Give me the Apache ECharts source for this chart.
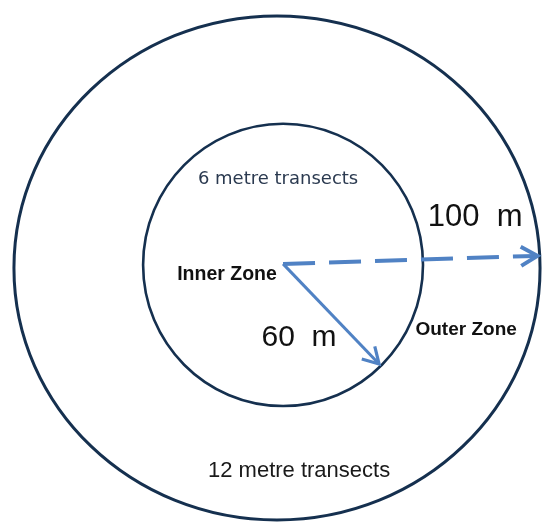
<!DOCTYPE html>
<html>
<head>
<meta charset="utf-8">
<script src="https://cdn.jsdelivr.net/npm/echarts@6/dist/echarts.min.js"></script>
<style>
html,body{margin:0;padding:0;background:#fff;}
#chart{width:544px;height:522px;}
</style>
</head>
<body>
<div id="chart"></div>
<script>
// ---- Data (diagram units: outer zone radius = 100) ----
var zoneNames   = ['Inner Zone', 'Outer Zone'];
var ringCenterX = [2.3, 0];
var ringCenterY = [1.2, 0];
var ringRadiusX = [53.2, 100];
var ringRadiusY = [56.0, 100];

var arrowNames  = ['100 m', '60 m'];
var arrowStartX = [2.3, 2.3];
var arrowStartY = [1.6, 1.6];
var arrowEndX   = [99.0, 38.8];
var arrowEndY   = [4.8, -38.1];
var arrowDashed = [1, 0];

var labelTexts  = ['6 metre transects', 'Inner Zone', '100  m', '60  m', 'Outer Zone', '12 metre transects'];
var labelX      = [0.4, -19.0, 75.3, 8.4, 71.9, 8.4];
var labelY      = [35.3, -2.8, 20.0, -27.8, -24.6, -80.6];

// ---- Styles ----
var labelStyles = [
  {font: 'normal 18px "DejaVu Sans"', fill: '#2b3a50'},
  {font: 'bold 19.5px "Liberation Sans"', fill: '#111111'},
  {font: 'normal 31px "Liberation Sans"', fill: '#111111'},
  {font: 'normal 30px "Liberation Sans"', fill: '#111111'},
  {font: 'bold 19px "Liberation Sans"', fill: '#111111'},
  {font: 'normal 22px "Liberation Sans"', fill: '#1a1a1a'}
];

var ringData = zoneNames.map(function (n, i) {
  return [ringCenterX[i], ringCenterY[i], ringRadiusX[i], ringRadiusY[i]];
});
var arrowData = arrowNames.map(function (n, i) {
  return [arrowStartX[i], arrowStartY[i], arrowEndX[i], arrowEndY[i], arrowDashed[i]];
});
var labelData = labelTexts.map(function (t, i) {
  return [labelX[i], labelY[i], i];
});

var chart = echarts.init(document.getElementById('chart'));
chart.setOption({
  animation: false,
  backgroundColor: '#ffffff',
  grid: {left: 0, right: 0, top: 0, bottom: 0},
  xAxis: {type: 'value', min: -105.3, max: 101.5, show: false},
  yAxis: {type: 'value', min: -100.8, max: 106.3, show: false},
  series: [
    {
      type: 'custom',
      name: 'zones',
      data: ringData,
      renderItem: function (params, api) {
        var c = api.coord([api.value(0), api.value(1)]);
        var s = api.size([api.value(2), api.value(3)]);
        return {
          type: 'ellipse',
          shape: {cx: c[0], cy: c[1], rx: s[0], ry: s[1]},
          style: {fill: 'none', stroke: '#15304f', lineWidth: params.dataIndex === 1 ? 3 : 2.6}
        };
      }
    },
    {
      type: 'custom',
      name: 'arrows',
      data: arrowData,
      renderItem: function (params, api) {
        var p0 = api.coord([api.value(0), api.value(1)]);
        var p1 = api.coord([api.value(2), api.value(3)]);
        var dashed = api.value(4) === 1;
        var ang = Math.atan2(p1[1] - p0[1], p1[0] - p0[0]);
        var L = dashed ? 19 : 18, a = Math.PI / 6;
        var h1 = [p1[0] - L * Math.cos(ang - a), p1[1] - L * Math.sin(ang - a)];
        var h2 = [p1[0] - L * Math.cos(ang + a), p1[1] - L * Math.sin(ang + a)];
        var color = '#5082c4';
        return {
          type: 'group',
          children: [
            {
              type: 'line',
              shape: {x1: p0[0], y1: p0[1], x2: p1[0] - 2 * Math.cos(ang), y2: p1[1] - 2 * Math.sin(ang)},
              style: {stroke: color, lineWidth: dashed ? 4 : 3, lineDash: dashed ? [32, 14] : null}
            },
            {
              type: 'polyline',
              shape: {points: [h1, p1, h2]},
              style: {stroke: color, fill: 'none', lineWidth: dashed ? 4 : 3.2, lineJoin: 'miter'}
            }
          ]
        };
      }
    },
    {
      type: 'custom',
      name: 'labels',
      data: labelData,
      z: 5,
      renderItem: function (params, api) {
        var p = api.coord([api.value(0), api.value(1)]);
        var i = api.value(2);
        return {
          type: 'text',
          x: p[0], y: p[1],
          style: {
            text: labelTexts[i],
            font: labelStyles[i].font,
            fill: labelStyles[i].fill,
            align: 'center',
            verticalAlign: 'middle'
          }
        };
      }
    }
  ]
});
</script>
</body>
</html>
